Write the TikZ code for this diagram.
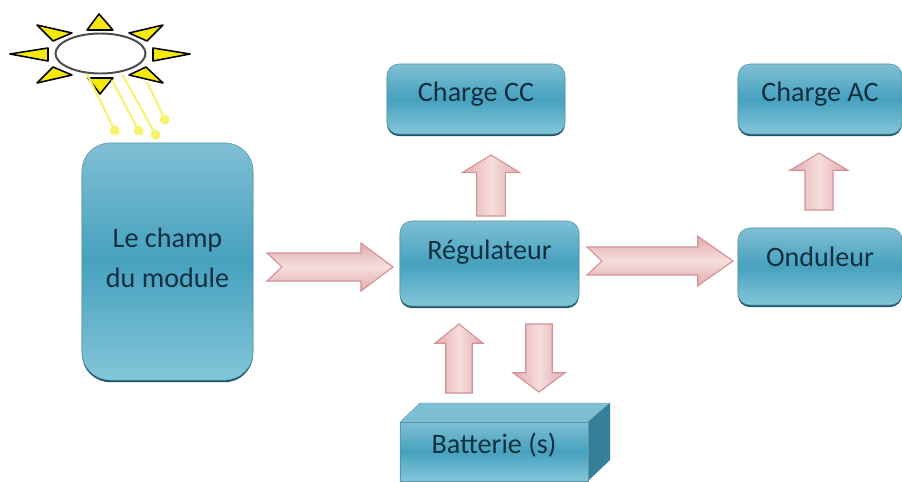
\documentclass[tikz,border=0pt]{standalone}
\usepackage{fontspec}
\setmainfont{Carlito}
\usetikzlibrary{calc,shadows,arrows.meta,shapes.geometric}
\definecolor{boxtop}{HTML}{7FBFD4}
\definecolor{boxmid}{HTML}{46A1BF}
\definecolor{boxlow}{HTML}{83C6D9}
\definecolor{boxedge}{HTML}{1F5568}
\definecolor{boxtext}{HTML}{12303F}
\definecolor{pinkedge}{HTML}{D39297}
\definecolor{pinkdark}{HTML}{E2ABAE}
\definecolor{pinklight}{HTML}{F6DEDC}
\definecolor{rayyellow}{HTML}{F8F36E}
\begin{document}
\begin{tikzpicture}[x=0.025cm, y=-0.025cm,
    box/.style={rounded corners=.3cm, top color=boxtop, bottom color=boxlow, middle color=boxmid,
        draw=boxedge!40!boxtop, line width=.4pt, text=boxtext, font=\fontsize{20}{24}\selectfont,
        general shadow={fill=boxedge, shadow yshift=-1.5pt}, inner sep=0pt, outer sep=0pt},
    fatarrow/.style n args={4}{draw=pinkedge, line width=.8pt, line join=miter,
        to path={
        -- ($(\tikztostart)!-#1!(\tikztotarget)!#3!90:(\tikztotarget)$)
        -- ($(\tikztotarget)!#2!(\tikztostart)!#3!-90:(\tikztostart)$)
        -- ($(\tikztotarget)!#2!(\tikztostart)!#4!-90:(\tikztostart)$)
        -- (\tikztotarget)
        -- ($(\tikztotarget)!#2!(\tikztostart)!#4!90:(\tikztostart)$)
        -- ($(\tikztotarget)!#2!(\tikztostart)!#3!90:(\tikztostart)$)
        -- ($(\tikztostart)!-#1!(\tikztotarget)!#3!-90:(\tikztotarget)$)
        -- cycle}},
    across/.style={top color=pinkdark, bottom color=pinkdark, middle color=pinklight},
    along/.style={left color=pinkdark, right color=pinkdark, middle color=pinklight},
    spike/.style={draw=black, fill=yellow!95!black, line width=1.1pt, line join=round},
    ray/.style={draw=rayyellow, line width=1.5pt, -{Circle[length=7pt,fill=rayyellow]}}]
    \useasboundingbox (0,0) rectangle (902,481);

    % sun
    \draw[spike] (99,14) -- (87,30) -- (113,30) -- cycle;
    \draw[spike] (37,25) -- (72,33) -- (53,41) -- cycle;
    \draw[spike] (163,25) -- (129,33) -- (147,41) -- cycle;
    \draw[spike] (10,54) -- (48,48) -- (48,61) -- cycle;
    \draw[spike] (190,54) -- (153,48) -- (153,61) -- cycle;
    \draw[spike] (37,83) -- (72,75) -- (53,67) -- cycle;
    \draw[spike] (163,83) -- (129,75) -- (146,67) -- cycle;
    \draw[spike] (100,94) -- (88,78) -- (113,78) -- cycle;
    \node[draw=black!70, fill=white, line width=1.4pt, ellipse, minimum width=2.25cm, minimum height=1cm, inner sep=0pt](sun) at (100.5,53.5){};

    \coordinate (r1_s) at (87,74);   \coordinate (r1_e) at (117,135);
    \coordinate (r2_s) at (112,80);  \coordinate (r2_e) at (141,135);
    \coordinate (r3_s) at (122,74);  \coordinate (r3_e) at (158,139);
    \coordinate (r4_s) at (147,82);  \coordinate (r4_e) at (167,124);
    \draw[ray] (r1_s) -- (r1_e);
    \draw[ray] (r2_s) -- (r2_e);
    \draw[ray] (r3_s) -- (r3_e);
    \draw[ray] (r4_s) -- (r4_e);

    % boxes
    \node[box, rounded corners=.7cm, minimum width=4.275cm, minimum height=5.925cm, align=center](module) at (167.5,261.5)
        {Le champ\\[.15cm]du module\\[-.65cm]};
    \node[box, minimum width=4.45cm, minimum height=1.75cm, text height=.3cm, text depth=.2cm](chargecc) at (476,99) {Charge CC};
    \node[box, minimum width=4.475cm, minimum height=2.125cm, text height=.3cm, text depth=.48cm](regul) at (489.5,263.5) {Régulateur};
    \node[box, minimum width=4.1cm, minimum height=1.75cm, text height=.3cm, text depth=.2cm](chargeac) at (820,99) {Charge AC};
    \node[box, minimum width=4.1cm, minimum height=1.925cm, text height=.3cm, text depth=.3cm](ondul) at (820,266.5) {Onduleur};

    % battery
    \fill[boxtop, draw=boxtop!80!black, line width=.3pt] (400,422) -- (420,403) -- (610,403) -- (588,422) -- cycle;
    \fill[boxedge!45!boxmid] (588,422) -- (610,403) -- (610,460) -- (588,481) -- cycle;
    \node[box, rounded corners=0pt, minimum width=4.7cm, minimum height=1.475cm, text height=.3cm, text depth=.22cm](batt) at (494,451.5) {Batterie (s)};

    % arrows
    \coordinate (a1_s) at (282,267);  \coordinate (a1_e) at (393,267);
    \coordinate (a2_s) at (602,261);  \coordinate (a2_e) at (733,261);
    \coordinate (a3_s) at (491,216);  \coordinate (a3_e) at (491,155);
    \coordinate (a4_s) at (819,210);  \coordinate (a4_e) at (819,153);
    \coordinate (a5_s) at (459,393);  \coordinate (a5_e) at (459,324);
    \coordinate (a6_s) at (539,324);  \coordinate (a6_e) at (539,392);

    \draw[fatarrow={.375cm}{.8cm}{.35cm}{.6cm}, across] (a1_s) to (a1_e);
    \draw[fatarrow={.375cm}{.88cm}{.35cm}{.62cm}, across] (a2_s) to (a2_e);
    \draw[fatarrow={0cm}{.44cm}{.36cm}{.72cm}, along] (a3_s) to (a3_e);
    \draw[fatarrow={0cm}{.43cm}{.35cm}{.72cm}, along] (a4_s) to (a4_e);
    \draw[fatarrow={0cm}{.48cm}{.33cm}{.6cm}, along] (a5_s) to (a5_e);
    \draw[fatarrow={0cm}{.48cm}{.33cm}{.65cm}, along] (a6_s) to (a6_e);
\end{tikzpicture}
\end{document}
